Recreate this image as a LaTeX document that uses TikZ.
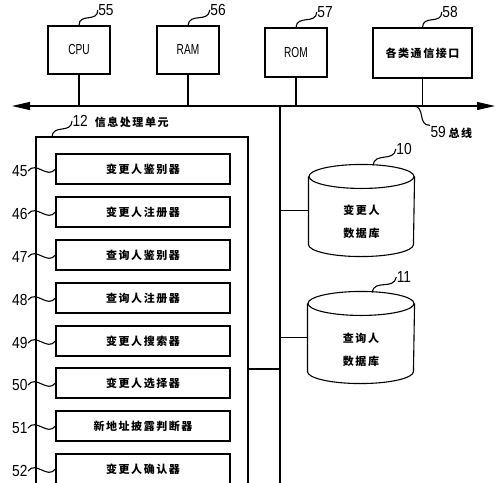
\documentclass[tikz,border=0pt]{standalone}
\usepackage{fontspec}
\setmainfont{Liberation Sans}
\newfontfamily\cjkf{Noto Sans CJK SC}
\newfontfamily\numf[FakeStretch=0.86]{Liberation Sans}
\newfontfamily\condf[FakeStretch=0.70]{Liberation Sans}
\usetikzlibrary{arrows.meta,calc}
\newcommand\numsz{\numf\fontsize{16}{16}\selectfont}
\newcommand\cjksz{\cjkf\bfseries\fontsize{11}{23}\selectfont\addfontfeature{LetterSpace=14}}
\begin{document}
\begin{tikzpicture}[x=1pt,y=-1pt,line width=1.1pt,
  squig/.style={to path={.. controls ($(\tikztostart)!0.33!(\tikztotarget)!10pt!90:(\tikztotarget)$) and ($(\tikztostart)!0.67!(\tikztotarget)!10pt!-90:(\tikztotarget)$) .. (\tikztotarget)}},
  topbox/.style={draw,inner sep=0pt},
  unitbox/.style={draw,minimum width=174pt,minimum height=30pt,inner sep=0pt,font=\cjksz},
  lab/.style={inner sep=0pt,font=\numsz},
  txt/.style={inner sep=0pt,align=center,font=\cjksz}]
\useasboundingbox (0,0) rectangle (500,482);
\clip (0,0) rectangle (500,482);
% top boxes
\node[topbox,minimum width=62pt,minimum height=48pt] (cpu) at (79,50) {\condf\fontsize{14.5}{14.5}\selectfont CPU};
\node[topbox,minimum width=62pt,minimum height=48pt] (ram) at (188,50) {\condf\fontsize{14.5}{14.5}\selectfont RAM};
\node[topbox,minimum width=62pt,minimum height=49pt] (rom) at (296,52.5) {\condf\fontsize{14.5}{14.5}\selectfont ROM};
\node[topbox,minimum width=99pt,minimum height=50pt] (comm) at (422.5,53) {\cjksz 各类通信接口};
\node[lab] (l55) at (106,10) {55};
\node[lab] (l56) at (218,10) {56};
\node[lab] (l57) at (325,12) {57};
\node[lab] (l58) at (450,12) {58};
\draw (cpu.north) to[squig] (l55.west);
\draw (ram.north) to[squig] (l56.west);
\draw (rom.north) to[squig] (l57.west);
\draw (comm.north) to[squig] (l58.west);
% bus
\coordinate (busL) at (12,106);
\coordinate (busR) at (495,106);
\draw[{Triangle[length=18pt,width=8pt]}-{Triangle[length=18pt,width=8pt]}] (busL) -- (busR);
\foreach \n in {cpu,ram,rom,comm} \draw (\n.south) -- (\n.south |- busL);
\coordinate (b59) at (413,106);
\node[lab,anchor=west] (l59) at (430,132) {59\,{\cjksz 总线}};
\draw (b59) to[squig] (l59.north west);
% vertical line
\coordinate (vtop) at (280,106);
\coordinate (vbot) at (280,490);
\draw (vtop) -- (vbot);
% unit 12
\coordinate (u12tl) at (36,137);
\coordinate (u12tr) at (248,137);
\draw (36,490) -- (u12tl) -- (u12tr) -- (248,490);
\coordinate (u12r) at (248,369);
\draw (u12r) -- (u12r -| vtop);
\coordinate (c12) at (52,137);
\node[lab,anchor=west] (l12) at (72,121) {12\hspace{7pt}{\cjksz 信息处理单元}};
\draw (c12) to[squig] (l12.west);
% inner boxes
\foreach \i/\y/\t in {45/169/变更人鉴别器,46/212/变更人注册器,47/255/查询人鉴别器,48/298/查询人注册器,49/341/变更人搜索器,50/383/变更人选择器,51/426/新地址披露判断器,52/469/变更人确认器}{
  \node[unitbox] (b\i) at (143,\y) {\t};
  \node[lab,anchor=east] (l\i) at (28,\y+2) {\i};
  \draw (l\i.east) to[squig] (b\i.west);
}
% cylinders
\node[inner sep=0pt,minimum width=105pt,minimum height=91pt] (db10) at (361.5,210.5) {};
\draw ($(db10.north west)+(0,12)$) -- ($(db10.south west)+(0,-12)$) arc[start angle=180,end angle=360,x radius=52.5pt,y radius=12pt] -- ($(db10.north east)+(0,12)$);
\draw ($(db10.north)+(0,12)$) ellipse[x radius=52.5pt,y radius=12pt];
\node[txt] (t10) at (361.5,221.5) {变更人\\数据库};
\node[inner sep=0pt,minimum width=106pt,minimum height=91pt] (db11) at (361,337.5) {};
\draw ($(db11.north west)+(0,12)$) -- ($(db11.south west)+(0,-12)$) arc[start angle=180,end angle=360,x radius=53pt,y radius=12pt] -- ($(db11.north east)+(0,12)$);
\draw ($(db11.north)+(0,12)$) ellipse[x radius=53pt,y radius=12pt];
\node[txt] (t11) at (361,350) {查询人\\数据库};
\draw (db10.west -| vtop) -- (db10.west);
\draw (db11.west -| vtop) -- (db11.west);
\coordinate (c10) at (373,165.3);
\coordinate (c11) at (372,292.3);
\node[lab] (l10) at (404,149) {10};
\node[lab] (l11) at (404,277) {11};
\draw (c10) to[squig] (l10.west);
\draw (c11) to[squig] (l11.west);
\end{tikzpicture}
\end{document}
